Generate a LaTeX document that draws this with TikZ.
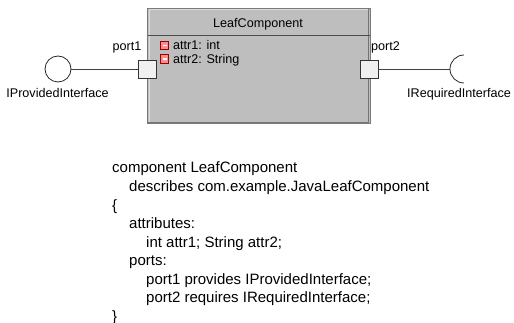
\documentclass[tikz,border=0pt]{standalone}
\usepackage{fontspec}
\setmainfont{Liberation Sans}
\begin{document}
\begin{tikzpicture}[x=1pt,y=-1pt,
  lbl/.style={inner sep=0pt, font=\fontsize{12.6}{14}\selectfont},
  code/.style={inner sep=0pt, anchor=base west, font=\fontsize{15}{18}\selectfont},
  portbox/.style={draw=black!80, fill=black!6, line width=0.8pt, minimum size=18pt, inner sep=0pt},
  attricon/.style={draw=red!60!black, fill=red!45!white, line width=0.6pt, minimum size=8.5pt, inner sep=0pt},
  wire/.style={draw=black!75, line width=0.8pt}]
\definecolor{boxfill}{HTML}{BEBEBE}
\definecolor{boxedge}{HTML}{7A7A7A}
\definecolor{bevel}{HTML}{DCDCDC}
\useasboundingbox (0,0) rectangle (514,323);

% component body with a bevelled border
\fill[boxfill] (147.5,8.5) rectangle (370,124);
\draw[bevel, line width=1pt] (149,122.5) -- (149,10) -- (368.5,10);
\draw[boxedge, line width=1pt] (147.5,124) rectangle (370,8.5);
\draw[black!55, line width=1pt] (147.5,122.5) -- (368.5,122.5) -- (368.5,8.5);
\draw[black!70, line width=1pt] (147.5,36) -- (370,36);
\node[lbl] (title) at (258,24.5) {LeafComponent};

% attributes
\node[attricon] (ic1) at (164.5,45.5) {};
\draw[white, line width=1.2pt] ([xshift=-2pt]ic1.center) -- ([xshift=2pt]ic1.center);
\node[lbl, anchor=base west] (a1) at (173,49.5) {attr1: int};
\node[attricon] (ic2) at (164.5,59) {};
\draw[white, line width=1.2pt] ([xshift=-2pt]ic2.center) -- ([xshift=2pt]ic2.center);
\node[lbl, anchor=base west] (a2) at (173,63.5) {attr2: String};

% ports
\node[portbox] (p1) at (147.5,69) {};
\node[portbox] (p2) at (369,69) {};
\node[lbl, anchor=base east] (p1l) at (141.5,51) {port1};
\node[lbl, anchor=base west] (p2l) at (371,51) {port2};

% provided interface (lollipop)
\node[draw=black!85, line width=0.8pt, circle, minimum size=26pt, inner sep=0pt, fill=white] (prov) at (58,69) {};
\draw[wire] (prov.east) -- (p1.west);
\node[lbl, anchor=base] (provl) at (57.5,98) {IProvidedInterface};

% required interface (socket), a half circle opening to the right
\coordinate (sock) at (450,69);
\draw[wire] (p2.east) -- (sock);
\draw[black!85, line width=0.8pt] (464,83) arc[start angle=90, end angle=270, radius=14];
\node[lbl, anchor=base] (reql) at (459,98) {IRequiredInterface};

% textual definition
\node[code] (c1) at (112,173) {component LeafComponent};
\node[code] (c2) at (129,191.5) {describes com.example.JavaLeafComponent};
\node[code] (c3) at (112,210.1) {\{};
\node[code] (c4) at (129,228.6) {attributes:};
\node[code] (c5) at (146,247.2) {int attr1; String attr2;};
\node[code] (c6) at (129,265.7) {ports:};
\node[code] (c7) at (146,284.3) {port1 provides IProvidedInterface;};
\node[code] (c8) at (146,302.8) {port2 requires IRequiredInterface;};
\node[code] (c9) at (112,321.3) {\}};
\end{tikzpicture}
\end{document}
